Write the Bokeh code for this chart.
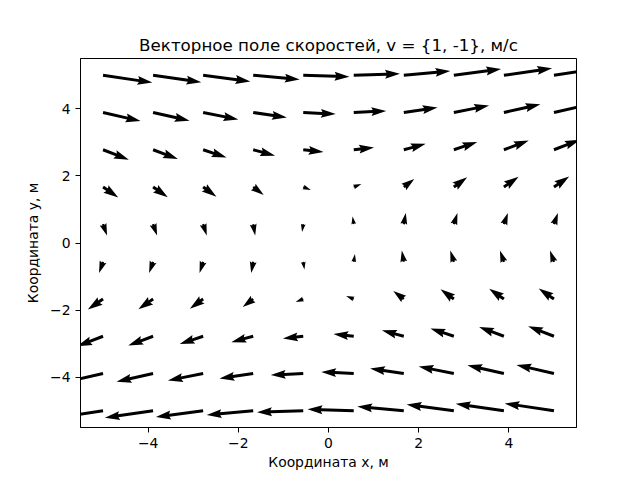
import math
from bokeh.plotting import figure
from bokeh.models import Range1d, FixedTicker, CustomJSTickFormatter
from bokeh.embed import file_html
from bokeh.resources import INLINE

# ---- data (grid positions, vector components) ----
X_POS = [-5.0, -3.89, -2.78, -1.67, -0.56, 0.56, 1.67, 2.78, 3.89, 5.0]
Y_POS = [5.0, 3.89, 2.78, 1.67, 0.56, -0.56, -1.67, -2.78, -3.89, -5.0]   # rows, top to bottom

U = [
    [4.93, 4.82, 4.72, 4.65, 4.62, 4.62, 4.65, 4.72, 4.82, 4.93],
    [3.75, 3.65, 3.52, 3.37, 3.25, 3.25, 3.37, 3.52, 3.65, 3.75],
    [2.58, 2.48, 2.34, 2.19, 2.03, 2.03, 2.19, 2.34, 2.48, 2.58],
    [1.52, 1.47, 1.33, 1.05, 0.76, 0.76, 1.05, 1.33, 1.47, 1.52],
    [0.40, 0.40, 0.36, 0.20, -0.12, -0.12, 0.20, 0.36, 0.40, 0.40],
    [-0.40, -0.40, -0.36, -0.20, 0.12, 0.12, -0.20, -0.36, -0.40, -0.40],
    [-1.52, -1.47, -1.33, -1.05, -0.76, -0.76, -1.05, -1.33, -1.47, -1.52],
    [-2.58, -2.48, -2.34, -2.19, -2.03, -2.03, -2.19, -2.34, -2.48, -2.58],
    [-3.75, -3.65, -3.52, -3.37, -3.25, -3.25, -3.37, -3.52, -3.65, -3.75],
    [-4.93, -4.82, -4.72, -4.65, -4.62, -4.62, -4.65, -4.72, -4.82, -4.93],
]
V = [
    [-0.73, -0.70, -0.62, -0.42, -0.15, 0.15, 0.42, 0.62, 0.70, 0.73],
    [-0.86, -0.82, -0.70, -0.50, -0.16, 0.16, 0.50, 0.70, 0.82, 0.86],
    [-0.99, -0.92, -0.78, -0.59, -0.22, 0.22, 0.59, 0.78, 0.92, 0.99],
    [-1.04, -1.03, -0.97, -0.80, -0.30, 0.30, 0.80, 0.97, 1.03, 1.04],
    [-1.12, -1.12, -1.12, -1.12, -0.77, 0.77, 1.12, 1.12, 1.12, 1.12],
    [-1.12, -1.12, -1.12, -1.12, -0.77, 0.77, 1.12, 1.12, 1.12, 1.12],
    [-1.04, -1.03, -0.97, -0.80, -0.30, 0.30, 0.80, 0.97, 1.03, 1.04],
    [-0.99, -0.92, -0.78, -0.59, -0.22, 0.22, 0.59, 0.78, 0.92, 0.99],
    [-0.86, -0.82, -0.70, -0.50, -0.16, 0.16, 0.50, 0.70, 0.82, 0.86],
    [-0.73, -0.70, -0.62, -0.42, -0.15, 0.15, 0.42, 0.62, 0.70, 0.73],
]
X_TICKS = [-4, -2, 0, 2, 4]
Y_TICKS = [-4, -2, 0, 2, 4]

TITLE = "Векторное поле скоростей, v = {1, -1}, м/с"
XLABEL = "Координата x, м"
YLABEL = "Координата y, м"

# ---- layout ----
FRAME_W, FRAME_H = 496, 369
XR = (-5.5, 5.5)
YR = (-5.5, 5.5)
kx = FRAME_W / (XR[1] - XR[0])   # px per data unit
ky = FRAME_H / (YR[1] - YR[0])

# quiver style (matplotlib-like arrows, sizes in shaft widths)
SCALE_PX = 10.0      # px per unit of vector
W = 2.98             # shaft width, px
HL, HAL, HW = 5.0, 4.5, 3.0
MINSH = 1.0 * HL

xs_all, ys_all = [], []
for i, y0 in enumerate(Y_POS):
    for j, x0 in enumerate(X_POS):
        u = U[i][j] * SCALE_PX
        v = V[i][j] * SCALE_PX
        mag = math.hypot(u, v)
        L = mag / W
        Yp = [0.5, 0.5, 0.5 * HW, 0.0, -0.5 * HW, -0.5, -0.5, 0.5]
        if L < MINSH:
            s = L / MINSH
            Xp = [0, MINSH - HAL, MINSH - HL, MINSH, MINSH - HL, MINSH - HAL, 0, 0]
            Xp = [a * s for a in Xp]
            Yp = [b * s for b in Yp]
        else:
            Xp = [0, L - HAL, L - HL, L, L - HL, L - HAL, 0, 0]
        c, sn = u / mag, v / mag
        px = [x0 + (a * c - b * sn) * W / kx for a, b in zip(Xp, Yp)]
        py = [y0 + (a * sn + b * c) * W / ky for a, b in zip(Xp, Yp)]
        xs_all.append(px)
        ys_all.append(py)

p = figure(
    frame_width=FRAME_W, frame_height=FRAME_H,
    x_range=Range1d(*XR), y_range=Range1d(*YR),
    output_backend="svg", toolbar_location=None,
    min_border_left=80, min_border_right=64, min_border_top=58, min_border_bottom=53,
    title=TITLE,
)
p.patches(xs_all, ys_all, fill_color="black", line_color=None)

p.background_fill_color = "white"
p.border_fill_color = "white"
p.outline_line_color = "black"
p.outline_line_width = 1
p.grid.grid_line_color = None

p.title.text_font = "DejaVu Sans"
p.title.text_font_size = "16.7px"
p.title.text_font_style = "normal"
p.title.text_color = "black"
p.title.align = "center"
p.title.standoff = 8

fmt = CustomJSTickFormatter(code="return tick < 0 ? '\\u2212' + Math.abs(tick) : String(tick);")
for ax, ticks, lab in ((p.xaxis[0], X_TICKS, XLABEL), (p.yaxis[0], Y_TICKS, YLABEL)):
    ax.ticker = FixedTicker(ticks=ticks)
    ax.formatter = fmt
    ax.axis_label = lab
    ax.axis_label_text_font = "DejaVu Sans"
    ax.axis_label_text_font_size = "13.9px"
    ax.axis_label_text_font_style = "normal"
    ax.axis_label_text_color = "black"
    ax.major_label_text_font = "DejaVu Sans"
    ax.major_label_text_font_size = "13.9px"
    ax.major_label_text_color = "black"
    ax.major_tick_in = 0
    ax.major_tick_out = 5
    ax.major_tick_line_color = "black"
    ax.major_tick_line_width = 1
    ax.minor_tick_line_color = None
    ax.axis_line_color = "black"
    ax.axis_line_width = 1
    ax.major_label_standoff = 5
p.xaxis[0].axis_label_standoff = 3
p.yaxis[0].axis_label_standoff = 6

open("out.html", "w").write(file_html(p, INLINE))
